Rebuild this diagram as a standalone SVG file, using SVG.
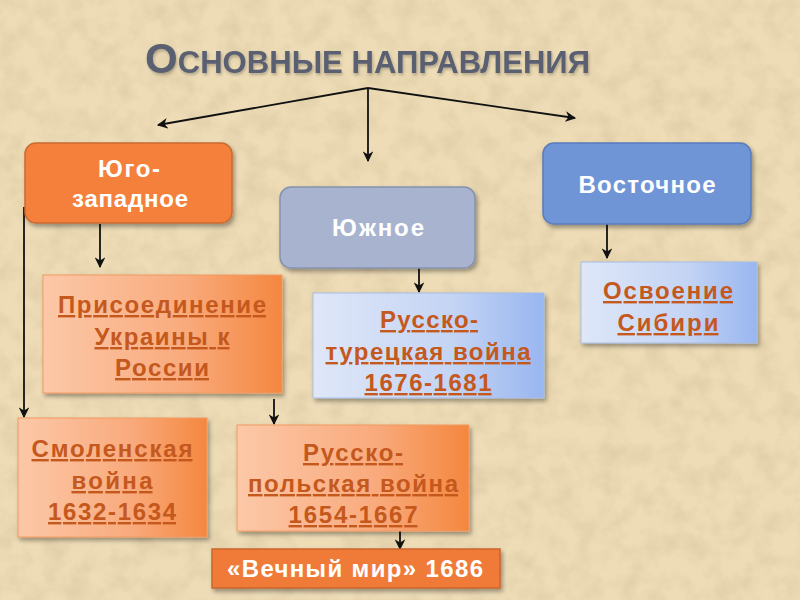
<svg xmlns="http://www.w3.org/2000/svg" width="800" height="600" viewBox="0 0 800 600">
<style>
.hdr{font-family:"Liberation Sans",Arial,sans-serif;font-weight:bold;font-size:24px;fill:#ffffff;text-anchor:middle}
.lnk{font-family:"Liberation Sans",Arial,sans-serif;font-weight:bold;font-size:24px;fill:#c4581d;text-anchor:middle;text-decoration:underline}
.con{fill:none;stroke:#111;stroke-width:1.8;marker-end:url(#ah)}
.title{font-family:"Liberation Sans",Arial,sans-serif;font-weight:bold;fill:#5a6171}
</style>
<defs>
<marker id="ah" viewBox="0 0 10 10" refX="9" refY="5" markerWidth="6" markerHeight="6" orient="auto" markerUnits="strokeWidth">
<path d="M0,0 L10,5 L0,10 L3,5 z" fill="#111"/>
</marker>
<filter id="paper" x="0" y="0" width="100%" height="100%">
<feTurbulence type="fractalNoise" baseFrequency="0.045" numOctaves="4" seed="7"/>
<feColorMatrix type="matrix" values="0 0 0 0 0.62  0 0 0 0 0.5  0 0 0 0 0.3  0.8 0 0 0 -0.3"/>
</filter>
<filter id="sh" x="-10%" y="-10%" width="125%" height="130%">
<feDropShadow dx="2" dy="3" stdDeviation="2" flood-color="#000" flood-opacity="0.35"/>
</filter>
<filter id="tsh" x="-5%" y="-20%" width="110%" height="150%">
<feDropShadow dx="1" dy="2" stdDeviation="1.5" flood-color="#000" flood-opacity="0.25"/>
</filter>
<linearGradient id="peach" x1="0" y1="0" x2="1" y2="0">
<stop offset="0" stop-color="#fcc8a8"/>
<stop offset="0.6" stop-color="#f9aa7c"/>
<stop offset="1" stop-color="#f4873f"/>
</linearGradient>
<linearGradient id="blue" x1="0" y1="0" x2="1" y2="0">
<stop offset="0" stop-color="#dfe7f8"/>
<stop offset="0.6" stop-color="#c4d4f4"/>
<stop offset="1" stop-color="#98b6f0"/>
</linearGradient>
</defs>
<rect width="800" height="600" fill="#eddcb6"/>
<rect width="800" height="600" filter="url(#paper)"/>

<g id="title">
<text class="title" x="145" y="73" textLength="445" lengthAdjust="spacingAndGlyphs" filter="url(#tsh)"><tspan font-size="42">О</tspan><tspan font-size="31">СНОВНЫЕ НАПРАВЛЕНИЯ</tspan></text>
</g>

<g id="connectors">
<path class="con" d="M368,88 L158,125"/>
<path class="con" d="M368,88 L575,118"/>
<path class="con" d="M368,88 L368,161"/>
<path class="con" d="M100,224 L100,267"/>
<path class="con" d="M24,207 L24,417"/>
<path class="con" d="M274,399 L274,424"/>
<path class="con" d="M419,268 L419,292"/>
<path class="con" d="M607,224 L607,258"/>
<path class="con" d="M400,531 L400,549"/>
</g>

<g id="yugo-zapadnoe">
<rect x="25" y="143" width="207" height="80" rx="11" fill="#f5803a" stroke="#c96a32" stroke-width="1.5" filter="url(#sh)"/>
<text class="hdr" x="129" y="177" textLength="62" lengthAdjust="spacing">Юго-</text>
<text class="hdr" x="130" y="207" textLength="116" lengthAdjust="spacing">западное</text>
</g>

<g id="yuzhnoe">
<rect x="280" y="187" width="195" height="81" rx="11" fill="#a8b4cf" stroke="#8592ae" stroke-width="1.5" filter="url(#sh)"/>
<text class="hdr" x="378" y="236" textLength="92" lengthAdjust="spacing">Южное</text>
</g>

<g id="vostochnoe">
<rect x="543" y="143" width="208" height="81" rx="11" fill="#6f95d6" stroke="#5a7bbd" stroke-width="1.5" filter="url(#sh)"/>
<text class="hdr" x="647" y="193" textLength="137" lengthAdjust="spacing">Восточное</text>
</g>

<g id="ukraina">
<rect x="43" y="275" width="239" height="118" fill="url(#peach)" stroke="#f29a60" stroke-width="1" filter="url(#sh)"/>
<text class="lnk" x="162" y="313" textLength="208" lengthAdjust="spacing">Присоединение</text>
<text class="lnk" x="162" y="345" textLength="135" lengthAdjust="spacing">Украины к</text>
<text class="lnk" x="162" y="376" textLength="94" lengthAdjust="spacing">России</text>
</g>

<g id="russko-tureckaya">
<rect x="313" y="293" width="231" height="105" fill="url(#blue)" stroke="#a6bde6" stroke-width="1" filter="url(#sh)"/>
<text class="lnk" x="429" y="328" textLength="98" lengthAdjust="spacing">Русско-</text>
<text class="lnk" x="428" y="360" textLength="205" lengthAdjust="spacing">турецкая война</text>
<text class="lnk" x="428" y="391" textLength="127" lengthAdjust="spacing">1676-1681</text>
</g>

<g id="sibir">
<rect x="581" y="262" width="176" height="81" fill="url(#blue)" stroke="#a6bde6" stroke-width="1" filter="url(#sh)"/>
<text class="lnk" x="668" y="299" textLength="130" lengthAdjust="spacing">Освоение</text>
<text class="lnk" x="668" y="331" textLength="101" lengthAdjust="spacing">Сибири</text>
</g>

<g id="smolenskaya">
<rect x="18" y="418" width="189" height="119" fill="url(#peach)" stroke="#f29a60" stroke-width="1" filter="url(#sh)"/>
<text class="lnk" x="112" y="457" textLength="161" lengthAdjust="spacing">Смоленская</text>
<text class="lnk" x="112" y="489" textLength="81" lengthAdjust="spacing">война</text>
<text class="lnk" x="112" y="520" textLength="128" lengthAdjust="spacing">1632-1634</text>
</g>

<g id="russko-polskaya">
<rect x="237" y="425" width="232" height="106" fill="url(#peach)" stroke="#f29a60" stroke-width="1" filter="url(#sh)"/>
<text class="lnk" x="353" y="461" textLength="100" lengthAdjust="spacing">Русско-</text>
<text class="lnk" x="353" y="492" textLength="210" lengthAdjust="spacing">польская война</text>
<text class="lnk" x="353" y="523" textLength="129" lengthAdjust="spacing">1654-1667</text>
</g>

<g id="vechny-mir">
<rect x="212" y="549" width="288" height="39" fill="#f07a38" stroke="#c9662c" stroke-width="1.5" filter="url(#sh)"/>
<text class="hdr" x="355" y="577" font-size="23" textLength="256" lengthAdjust="spacing">«Вечный мир» 1686</text>
</g>
</svg>
